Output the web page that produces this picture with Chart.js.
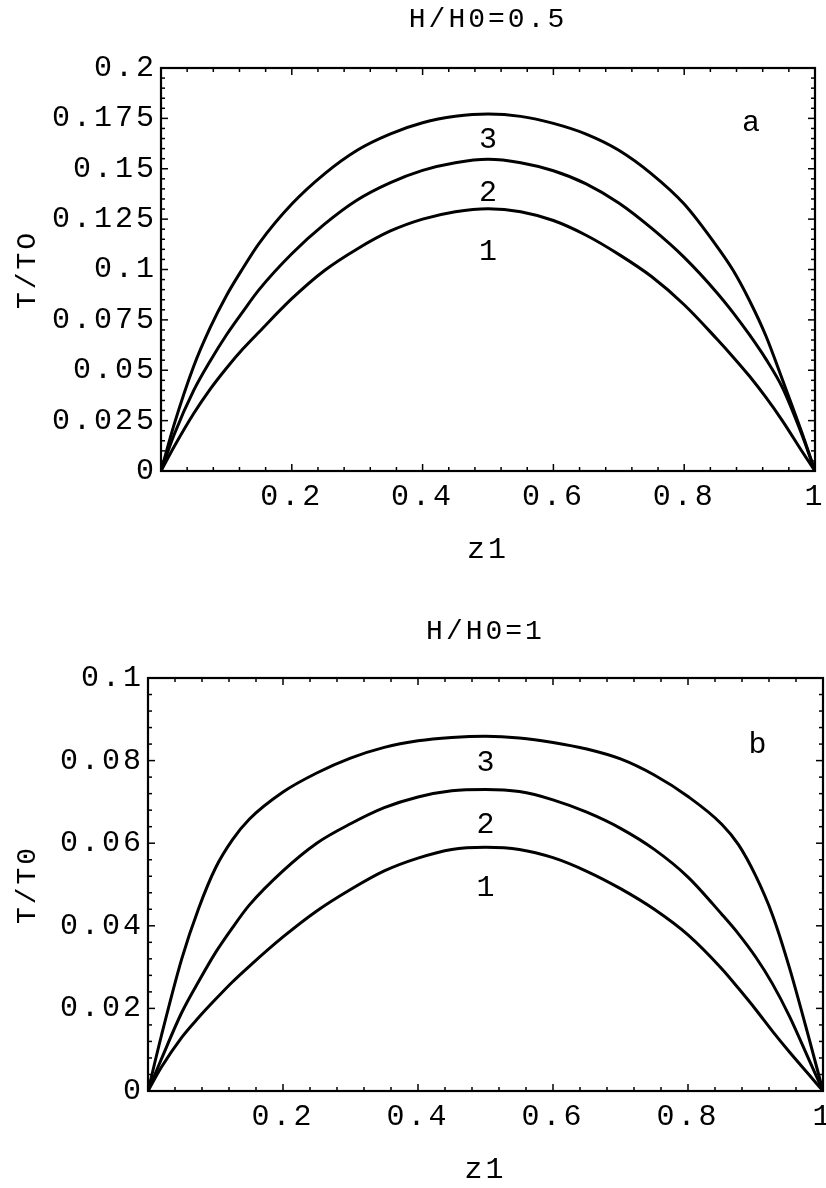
<!DOCTYPE html>
<html>
<head>
<meta charset="utf-8">
<script src="https://cdn.jsdelivr.net/npm/chart.js@4.4.1/dist/chart.umd.min.js"></script>
<style>
  html, body { margin: 0; padding: 0; background: #fff; }
  #wrap { position: relative; width: 826px; height: 1188px; background: #fff; }
  canvas { position: absolute; left: 0; }
  #cA { top: 0; }
  #cB { top: 595px; }
</style>
</head>
<body>
<div id="wrap">
  <canvas id="cA" width="826" height="595"></canvas>
  <canvas id="cB" width="826" height="593"></canvas>
</div>
<script>
// ---------- data ----------
const zValues = [0, 0.02, 0.05, 0.075, 0.1, 0.125, 0.15, 0.2, 0.25, 0.3, 0.35, 0.4, 0.45, 0.5,
                 0.55, 0.6, 0.65, 0.7, 0.75, 0.8, 0.85, 0.875, 0.9, 0.925, 0.95, 0.98, 1];

// Panel a : H/H0 = 0.5
const titleA = 'H/H0=0.5';
const curveA1 = [0, 0.012, 0.0285, 0.0405, 0.051, 0.0605, 0.069, 0.0855, 0.0995, 0.1102, 0.119, 0.125, 0.1287, 0.1302,
                 0.1287, 0.1243, 0.117, 0.1075, 0.0965, 0.0825, 0.0655, 0.0565, 0.047, 0.0365, 0.025, 0.0098, 0];
const curveA2 = [0, 0.018, 0.040, 0.0545, 0.0675, 0.079, 0.090, 0.1078, 0.1225, 0.1345, 0.143, 0.1492, 0.153, 0.1547,
                 0.153, 0.149, 0.1425, 0.133, 0.1205, 0.106, 0.0885, 0.0785, 0.0675, 0.0555, 0.0415, 0.018, 0];
const curveA3 = [0, 0.023, 0.052, 0.071, 0.087, 0.1005, 0.113, 0.1325, 0.1475, 0.1592, 0.1672, 0.1728, 0.176, 0.1772,
                 0.176, 0.1725, 0.1672, 0.1592, 0.1475, 0.1325, 0.1115, 0.0995, 0.0845, 0.067, 0.0455, 0.019, 0];
const yTicksA = [0, 0.025, 0.05, 0.075, 0.1, 0.125, 0.15, 0.175, 0.2];
const yTickLabelsA = ['0', '0.025', '0.05', '0.075', '0.1', '0.125', '0.15', '0.175', '0.2'];
const curveLabelTexts = ['1', '2', '3'];
const curveLabelZ = [0.5, 0.5, 0.5];
const curveLabelYA = [0.1088, 0.1378, 0.1643];
const panelTagA = 'a';
const panelTagPosA = [0.902, 0.1726];

// Panel b : H/H0 = 1
const titleB = 'H/H0=1';
const curveB1 = [0, 0.0058, 0.013, 0.0178, 0.0222, 0.0264, 0.0302, 0.0373, 0.0436, 0.0488, 0.0533, 0.0564, 0.0585, 0.059,
                 0.0585, 0.0565, 0.0532, 0.049, 0.044, 0.0378, 0.0296, 0.0248, 0.0198, 0.0145, 0.0095, 0.0038, 0];
const curveB2 = [0, 0.0078, 0.019, 0.0265, 0.0335, 0.0395, 0.045, 0.0533, 0.060, 0.0647, 0.0686, 0.0712, 0.0727, 0.073,
                 0.0725, 0.0705, 0.0675, 0.0636, 0.0585, 0.0518, 0.0428, 0.038, 0.0325, 0.026, 0.0182, 0.0073, 0];
const curveB3 = [0, 0.0135, 0.032, 0.0442, 0.054, 0.0608, 0.0658, 0.0724, 0.077, 0.0806, 0.0832, 0.0848, 0.0856, 0.0859,
                 0.0855, 0.0844, 0.0828, 0.0804, 0.0765, 0.0713, 0.0646, 0.0596, 0.0522, 0.0427, 0.030, 0.0123, 0];
const yTicksB = [0, 0.02, 0.04, 0.06, 0.08, 0.1];
const yTickLabelsB = ['0', '0.02', '0.04', '0.06', '0.08', '0.1'];
const curveLabelYB = [0.0491, 0.0644, 0.0793];
const panelTagB = 'b';
const panelTagPosB = [0.903, 0.0838];

const xTicks = [0, 0.2, 0.4, 0.6, 0.8, 1];
const xTickLabels = ['', '0.2', '0.4', '0.6', '0.8', '1'];
const xTitle = 'z1';
const yTitleA = 'T/TO';
const yTitleB = 'T/T0';

// ---------- helpers ----------
const FONT = "'Liberation Mono', 'DejaVu Sans Mono', monospace";
Chart.defaults.font.family = FONT;
Chart.defaults.color = '#000';

function toPoints(vals) { return zValues.map((z, i) => ({ x: z, y: vals[i] })); }

const frameTicks = {
  id: 'frameTicks',
  beforeDraw(chart) { chart.ctx.letterSpacing = '3px'; },
  afterDraw(chart, args, o) {
    const { ctx, chartArea: a } = chart;
    const xs = chart.scales.x, ys = chart.scales.y;
    ctx.save();
    ctx.letterSpacing = '0px';
    ctx.strokeStyle = '#000';
    ctx.lineWidth = 1.5;
    const line = (x1, y1, x2, y2) => { ctx.beginPath(); ctx.moveTo(x1, y1); ctx.lineTo(x2, y2); ctx.stroke(); };
    // x ticks (bottom and top, inward)
    for (let i = 0; i <= o.xCount; i++) {
      const v = xs.min + (xs.max - xs.min) * i / o.xCount;
      const L = (i % o.xPer === 0) ? 7 : 4;
      const px = xs.getPixelForValue(v);
      line(px, a.bottom, px, a.bottom - L);
      line(px, a.top, px, a.top + L);
    }
    // y ticks (left and right, inward)
    for (let i = 0; i <= o.yCount; i++) {
      const v = ys.min + (ys.max - ys.min) * i / o.yCount;
      const L = (i % o.yPer === 0) ? 7 : 4;
      const py = ys.getPixelForValue(v);
      line(a.left, py, a.left + L, py);
      line(a.right, py, a.right - L, py);
    }
    ctx.lineWidth = 2.2;
    ctx.strokeRect(a.left, a.top, a.right - a.left, a.bottom - a.top);
    // curve labels and panel tag
    ctx.fillStyle = '#000';
    ctx.font = '30px ' + FONT;
    ctx.textAlign = 'center';
    ctx.textBaseline = 'middle';
    o.labelTexts.forEach((t, i) => {
      ctx.fillText(t, xs.getPixelForValue(o.labelX[i]), ys.getPixelForValue(o.labelY[i]));
    });
    ctx.fillText(o.tag, xs.getPixelForValue(o.tagPos[0]), ys.getPixelForValue(o.tagPos[1]));
    ctx.restore();
  }
};

function makeChart(canvasId, cfg) {
  const ds = cfg.curves.map(c => ({
    data: toPoints(c),
    borderColor: '#000',
    borderWidth: 3,
    pointRadius: 0,
    fill: false,
    cubicInterpolationMode: 'monotone'
  }));
  return new Chart(document.getElementById(canvasId), {
    type: 'line',
    data: { datasets: ds },
    plugins: [frameTicks],
    options: {
      responsive: false,
      animation: false,
      devicePixelRatio: 1,
      layout: { padding: { left: 0, right: cfg.padRight, top: 0, bottom: 0 } },
      plugins: {
        legend: { display: false },
        tooltip: { enabled: false },
        title: {
          display: true,
          fullSize: false,
          text: cfg.title,
          color: '#000',
          font: { size: 28, weight: 'normal', family: FONT },
          padding: { top: cfg.titlePadTop, bottom: cfg.titlePadBottom }
        },
        frameTicks: {
          xCount: 25, xPer: 5,
          yCount: cfg.yMinorCount, yPer: 5,
          labelTexts: curveLabelTexts, labelX: curveLabelZ, labelY: cfg.labelY,
          tag: cfg.tag, tagPos: cfg.tagPos
        }
      },
      scales: {
        x: {
          type: 'linear', min: 0, max: 1,
          grid: { display: false, drawTicks: false },
          border: { display: false },
          afterBuildTicks: s => { s.ticks = xTicks.map(v => ({ value: v })); },
          ticks: {
            padding: 8,
            font: { size: 30 },
            maxRotation: 0,
            autoSkip: false,
            callback: (v, i) => xTickLabels[i]
          },
          title: {
            display: true, text: xTitle,
            font: { size: 30, family: FONT },
            padding: { top: 0, bottom: cfg.xTitlePadBottom }
          },
          afterFit: s => { s.height = cfg.xAxisHeight; s.paddingLeft = 0; s.paddingRight = 0; }
        },
        y: {
          type: 'linear', min: 0, max: cfg.yMax,
          grid: { display: false, drawTicks: false },
          border: { display: false },
          afterBuildTicks: s => { s.ticks = cfg.yTicks.map(v => ({ value: v })); },
          ticks: {
            padding: 4,
            font: { size: 30 },
            autoSkip: false,
            callback: (v, i) => cfg.yTickLabels[i]
          },
          title: {
            display: true, text: cfg.yTitle,
            font: { size: 28, family: FONT },
            padding: { top: 11.2, bottom: 0 }
          },
          afterFit: s => { s.width = cfg.yAxisWidth; s.paddingTop = 0; s.paddingBottom = 0; }
        }
      }
    }
  });
}

makeChart('cA', {
  curves: [curveA1, curveA2, curveA3],
  title: titleA, titlePadTop: 3.2, titlePadBottom: 31.2,
  yMax: 0.2, yTicks: yTicksA, yTickLabels: yTickLabelsA, yMinorCount: 40,
  yTitle: yTitleA, yAxisWidth: 161, xAxisHeight: 124, xTitlePadBottom: 27, padRight: 11,
  labelY: curveLabelYA, tag: panelTagA, tagPos: panelTagPosA
});

makeChart('cB', {
  curves: [curveB1, curveB2, curveB3],
  title: titleB, titlePadTop: 20.2, titlePadBottom: 29.2,
  yMax: 0.1, yTicks: yTicksB, yTickLabels: yTickLabelsB, yMinorCount: 25,
  yTitle: yTitleB, yAxisWidth: 148, xAxisHeight: 97, xTitlePadBottom: 0, padRight: 3,
  labelY: curveLabelYB, tag: panelTagB, tagPos: panelTagPosB
});
</script>
</body>
</html>
